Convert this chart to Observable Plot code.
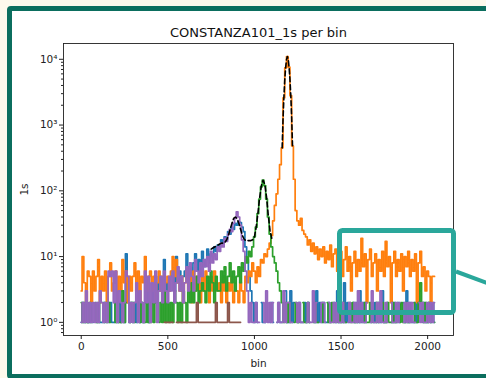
<!DOCTYPE html>
<html><head><meta charset="utf-8">
<script src="https://cdn.jsdelivr.net/npm/d3@7"></script>
<script src="https://cdn.jsdelivr.net/npm/@observablehq/plot@0.6"></script>
<style>
html,body{margin:0;padding:0;}
body{background:#fdf9ec;width:486px;height:378px;overflow:hidden;position:relative;font-family:"DejaVu Sans",sans-serif;}
#frame{position:absolute;left:7px;top:6px;width:520px;height:363px;border:5px solid #0b6e5e;border-radius:4px;background:#fff;}
#chart{position:absolute;left:0;top:0;}
#callout{position:absolute;left:0;top:0;}
</style>
</head><body>
<div id="frame"></div>
<div id="chart"></div>
<svg id="callout" width="486" height="378">
  <rect x="339.5" y="230.5" width="114" height="82" rx="3" fill="none" stroke="#2aa79b" stroke-width="5"/>
  <line x1="456" y1="271.5" x2="490" y2="284" stroke="#2aa79b" stroke-width="4"/>
</svg>
<script>
const title = "CONSTANZA101_1s per bin";
const xLabel = "bin";
const yLabel = "1s";
const xTicks = [0, 500, 1000, 1500, 2000];
const yTicks = [1, 10, 100, 1000, 10000];
const yTickLabels = ["10⁰", "10¹", "10²", "10³", "10⁴"];

// histogram bins (every 10th bin shown)
const bins = d3.range(0, 2041, 10);

const blue = [
  1,2,1,2,1,1,2,1,0,1,
  2,1,1,2,1,0,1,2,1,1,
  2,1,2,1,2,1,11,2,1,2,
  1,2,1,3,1,2,1,2,3,1,
  2,3,2,4,2,5,3,2,9,3,
  4,3,5,6,3,10,4,6,3,5,
  6,11,5,7,4,8,11,6,9,5,
  12,7,9,13,8,11,10,14,12,15,
  14,18,16,20,18,24,22,28,26,32,
  30,34,33,28,24,14,9,5,3,2,
  1,2,1,0,2,1,1,2,0,1,
  2,1,0,1,2,1,1,0,3,1,
  1,3,1,2,0,1,2,1,1,2,
  1,2,1,0,2,1,3,1,2,1,
  2,1,1,2,1,0,2,1,3,1,
  2,1,4,1,2,1,0,2,1,2,
  1,3,1,2,1,2,0,1,2,1,
  2,1,2,1,3,1,1,2,0,1,
  1,2,1,2,1,0,2,1,3,1,
  2,1,1,2,1,2,0,1,2,1,
  1,2,1,2,1
];
const orange = [
  3,10,4,2,6,5,2,6,3,5,
  9,2,5,3,6,2,5,8,3,4,
  6,2,5,3,9,4,6,2,5,3,
  5,8,3,6,2,5,4,10,3,5,
  6,3,5,2,4,6,3,5,2,4,
  5,3,6,10,5,9,4,3,5,2,
  4,6,3,5,2,6,3,5,4,2,
  5,3,6,4,2,5,3,6,4,3,
  4,2,5,3,2,4,3,5,2,3,
  3,2,4,3,2,5,4,6,5,8,
  6,4,7,5,9,8,11,10,13,16,
  21,35,60,90,150,250,450,2600,7400,11000,
  7600,2800,480,150,50,35,30,38,25,22,
  20,15,18,12,16,11,14,9,13,10,
  14,8,12,9,15,7,11,13,6,10,
  12,5,9,14,6,10,3,8,12,5,
  9,6,19,7,11,2,9,13,5,8,
  11,3,9,6,12,5,17,7,10,2,
  8,12,5,9,6,11,3,10,7,12,
  5,9,6,11,2,8,12,5,7,3,
  6,5,2,5,5
];
const green = [
  2,1,2,1,1,2,1,0,2,1,
  1,2,0,1,2,1,2,1,0,2,
  1,2,1,1,3,1,2,0,1,2,
  2,1,0,2,1,2,1,1,2,1,
  1,2,1,2,0,1,2,1,3,1,
  2,1,2,1,3,2,1,2,1,3,
  2,1,3,2,4,2,3,5,2,3,
  4,3,2,5,3,6,4,2,5,3,
  3,6,4,7,3,5,8,4,6,3,
  5,7,4,8,6,10,8,12,10,14,
  20,28,45,75,115,145,120,75,40,22,
  14,10,8,6,4,3,2,1,2,1,
  2,1,0,1,2,1,1,0,2,1,
  1,2,1,0,1,2,1,1,0,2,
  1,0,2,1,1,2,1,0,1,2,
  1,2,1,1,0,2,1,2,1,1,
  2,1,0,1,2,1,1,2,1,0,
  1,2,1,0,2,1,1,2,1,1,
  2,1,1,0,1,2,1,1,2,1,
  1,0,2,1,1,2,4,2,1,2,
  1,2,1,0,1
];
const purple = [
  1,2,1,3,1,2,1,2,1,2,
  1,3,2,1,2,1,6,5,6,2,
  6,1,3,2,1,2,6,5,1,2,
  1,2,4,1,3,2,1,6,2,5,
  1,4,2,6,1,3,5,2,6,3,
  2,5,3,6,2,4,7,3,5,2,
  4,7,3,8,5,3,9,6,4,8,
  5,9,7,10,6,12,8,11,9,14,
  12,16,14,19,17,22,26,24,32,38,
  48,40,30,18,12,6,3,1,2,1,
  1,2,1,1,0,2,1,3,1,2,
  1,2,0,1,2,1,1,3,1,2,
  2,1,1,0,2,1,2,1,1,0,
  1,2,1,1,3,1,2,0,1,2,
  2,1,0,2,1,1,2,1,2,1,
  1,2,1,0,1,2,1,1,2,1,
  3,1,2,1,1,2,0,1,3,1,
  1,2,1,3,1,1,2,1,0,2,
  1,1,2,1,2,0,1,2,1,2,
  1,2,1,1,0,2,1,2,1,1,
  2,1,2,1,2
];
const brownBins = d3.range(480, 921, 10);
const brown = [
  1,1,
  1,1,1,1,0,1,1,1,1,1,
  1,1,1,1,1,1,1,2,1,1,
  1,1,1,1,1,1,1,1,2,1,
  1,1,1,1,1,2,1,1,1,1,
  1,1,1
];

// fitted curves (black dashed)
const fit1Bins = d3.range(750, 1101, 10);
const fit1 = [
  13,13.5,14,14.5,15,15.5,16,16,16.5,18,
  21,26,32,38,40,38,32,26,21,18.5,
  17.5,17.5,17.5,17.5,18,20,28,45,78,120,
  145,125,80,42,25,19
];
const fit2Bins = d3.range(1160, 1221, 5);
const fit2 = [450,1200,2600,4800,7400,9800,11000,10000,7600,5000,2800,1300,480];

const seriesColors = {blue:"#1f77b4", orange:"#ff7f0e", green:"#2ca02c", purple:"#9467bd", brown:"#8c564b"};

function rows(xs, vs) { return xs.map((b, i) => ({bin: b, v: vs[i] > 0 ? vs[i] : NaN})); }

const minor = [];
for (let e = -1; e <= 4; e++) for (let m = 2; m <= 9; m++) {
  const v = m * Math.pow(10, e);
  if (v > Math.pow(10, -0.2) && v < Math.pow(10, 4.24)) minor.push(v);
}

const lineOpts = (c) => ({x: "bin", y: "v", stroke: c, strokeWidth: 1.7, curve: "step"});

const chart = Plot.plot({
  width: 486, height: 378,
  marginLeft: 63, marginRight: 33, marginTop: 43, marginBottom: 43,
  style: {background: "transparent", fontFamily: "DejaVu Sans", fontSize: "10.5px", color: "#222", overflow: "visible"},
  x: {domain: [-102.35, 2149.35]},
  y: {type: "log", domain: [Math.pow(10, -0.2), Math.pow(10, 4.24)]},
  marks: [
    Plot.line(rows(bins, blue), lineOpts(seriesColors.blue)),
    Plot.line(rows(bins, orange), lineOpts(seriesColors.orange)),
    Plot.line(rows(bins, green), lineOpts(seriesColors.green)),
    Plot.line(rows(bins, purple), lineOpts(seriesColors.purple)),
    Plot.line(rows(brownBins, brown), lineOpts(seriesColors.brown)),
    Plot.line(rows(fit1Bins, fit1), {x: "bin", y: "v", stroke: "#000", strokeWidth: 1.6, strokeDasharray: "5,3"}),
    Plot.line(rows(fit2Bins, fit2), {x: "bin", y: "v", stroke: "#000", strokeWidth: 1.6, strokeDasharray: "5,3"}),
    Plot.frame({stroke: "#222", strokeWidth: 0.9}),
    Plot.axisX({ticks: xTicks, tickSize: 4, tickPadding: 3, tickFormat: d => String(d),
      label: xLabel, labelAnchor: "center", labelArrow: "none", labelOffset: 31, fontSize: 10.5}),
    Plot.axisY({ticks: yTicks, tickSize: 4, tickPadding: 2, tickFormat: d => yTickLabels[yTicks.indexOf(d)],
      label: yLabel, labelAnchor: "center", labelArrow: "none", labelOffset: 43, fontSize: 10.5}),
    Plot.axisY({ticks: minor, tickSize: 2, tickFormat: () => "", label: null}),
    Plot.text([title], {frameAnchor: "top", dy: -7, lineAnchor: "bottom", fontSize: 13, fill: "#111"})
  ]
});
document.getElementById("chart").appendChild(chart);
</script>
</body></html>
